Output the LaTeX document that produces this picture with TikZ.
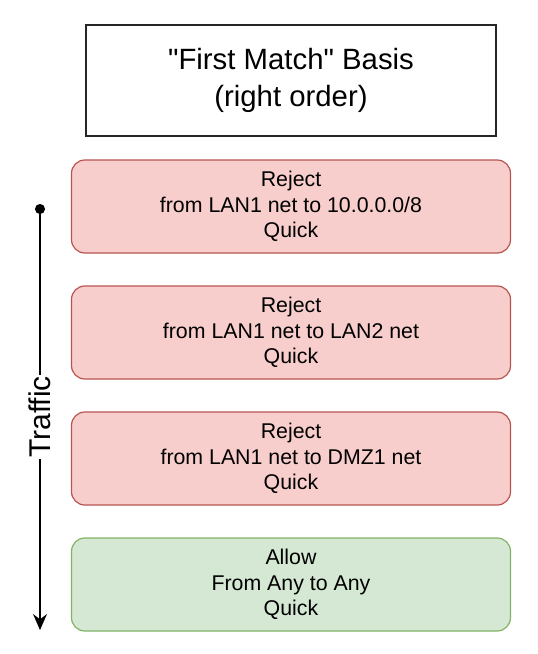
\documentclass[tikz,border=0pt]{standalone}
\usepackage{fontspec}
\setmainfont{Liberation Sans}[Ligatures=TeXOff]
\usetikzlibrary{arrows.meta,positioning}
\definecolor{rejectfill}{HTML}{F8CECC}
\definecolor{rejectline}{HTML}{B85450}
\definecolor{allowfill}{HTML}{D5E8D4}
\definecolor{allowline}{HTML}{82B366}
\tikzset{
    %Define style for the heading box
    titlebox/.style={
           rectangle,
           draw=black!85, line width=1.4pt,
           outer sep=0pt,
           minimum width=307.5pt,
           minimum height=83.25pt,
           font=\fontsize{22}{27.75}\selectfont,
           align=center},
    %Define style for rule boxes
    rulerect/.style={
           rectangle,
           rounded corners=10pt,
           line width=0.9pt,
           outer sep=0pt,
           minimum width=329.25pt,
           minimum height=69.75pt,
           font=\fontsize{16}{19.2}\selectfont,
           align=center},
    rejectrect/.style={
           rulerect,
           draw=rejectline,
           fill=rejectfill},
    allowrect/.style={
           rulerect,
           draw=allowline,
           fill=allowfill},
    % Define arrow style
    flow/.style={
           {Circle[length=7.5pt]}-{Stealth[length=12pt,width=10.5pt,inset=4pt]},
           line width=1.1pt},
    flowlabel/.style={
           rotate=90,
           fill=white,
           inner sep=1pt,
           font=\fontsize{22.5}{27}\selectfont}
}
\begin{document}
\begin{tikzpicture}[x=0.75pt,y=-0.75pt,node distance=24.75pt]
\useasboundingbox (0,0) rectangle (537,654);
 %nodes
\node[titlebox] (title) at (291,80.5) {"First Match" Basis\\(right order)};
\node[rejectrect, below=18pt of title] (rule1) {Reject\\from LAN1 net to 10.0.0.0/8\\Quick};
\node[rejectrect, below=of rule1] (rule2) {Reject\\from LAN1 net to LAN2 net\\Quick};
\node[rejectrect, below=of rule2] (rule3) {Reject\\from LAN1 net to DMZ1 net\\Quick};
\node[allowrect, below=of rule3] (rule4) {Allow\\From Any to Any\\Quick};
 %traffic direction
\coordinate (trafficstart) at (40,204);
\coordinate (trafficend) at (40,630);
\draw[flow] (trafficstart) -- node[flowlabel]{Traffic} (trafficend);
\end{tikzpicture}
\end{document}
